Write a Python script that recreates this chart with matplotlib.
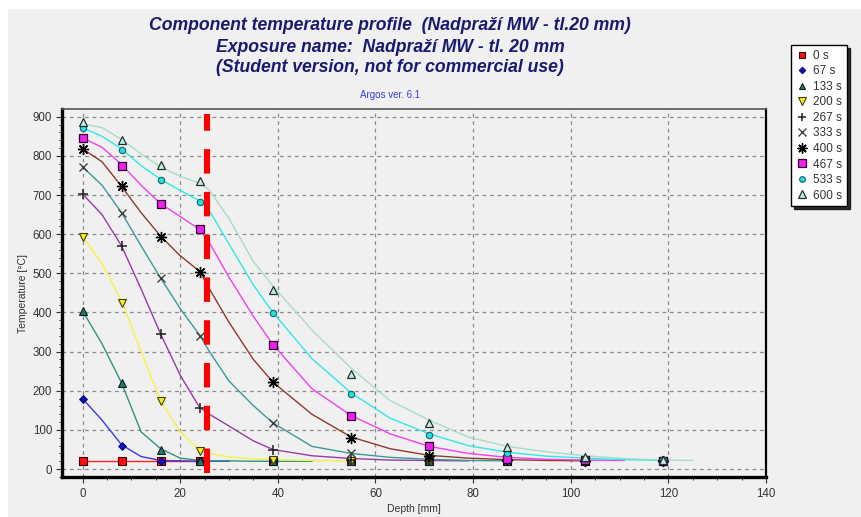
import numpy as np
import matplotlib
matplotlib.use("Agg")
import matplotlib.pyplot as plt
from matplotlib.lines import Line2D
from matplotlib.patches import Rectangle
from matplotlib.ticker import MultipleLocator

nan = np.nan

# ---------------- data ----------------
series_labels = ["0 s", "67 s", "133 s", "200 s", "267 s", "333 s", "400 s", "467 s", "533 s", "600 s"]

# measured points (markers)
marker_depth = [0, 8, 16, 24, 39, 55, 71, 87, 103, 119]
t_0 = [20, 20, 20, 20, 20, 20, 20, 20, 20, 20]
t_67 = [179, 60, 21, 20, 20, 20, 20, 20, 20, 20]
t_133 = [404, 220, 50, 21, 20, 20, 20, 20, 20, 20]
t_200 = [594, 425, 174, 47, 23, 21, 20, 20, 20, 20]
t_267 = [703, 570, 345, 155, 49, 24, 21, 20, 20, 20]
t_333 = [772, 655, 487, 341, 118, 42, 28, 22, 21, 20]
t_400 = [818, 722, 594, 504, 222, 80, 34, 24, 21, 20]
t_467 = [846, 774, 676, 612, 317, 136, 58, 27, 22, 21]
t_533 = [872, 815, 738, 683, 398, 192, 88, 42, 26, 22]
t_600 = [886, 840, 777, 735, 458, 242, 117, 57, 31, 22]

# simulated profiles (lines)
line_depth = [0, 4, 8, 12, 16, 20, 24, 26, 30, 35, 39, 47, 55, 63, 71, 79, 87, 95, 103, 111, 119, 125]
l_0 = [20, 20, 20, 20, 20, 20, 20, nan, nan, nan, nan, nan, nan, nan, nan, nan, nan, nan, nan, nan, nan, nan]
l_67 = [180, 125, 62, 32, 22, 21, 20, 20, 20, nan, nan, nan, nan, nan, nan, nan, nan, nan, nan, nan, nan, nan]
l_133 = [404, 320, 220, 95, 52, 28, 22, 21, 21, 20, 20, 20, nan, nan, nan, nan, nan, nan, nan, nan, nan, nan]
l_200 = [594, 525, 430, 300, 175, 95, 48, 40, 31, 26, 24, 22, 21, nan, nan, nan, nan, nan, nan, nan, nan, nan]
l_267 = [703, 650, 570, 460, 345, 240, 157, 140, 110, 72, 50, 34, 27, 23, 22, 21, nan, nan, nan, nan, nan, nan]
l_333 = [772, 725, 655, 570, 488, 410, 342, 300, 225, 162, 118, 58, 40, 30, 25, 22, 21, nan, nan, nan, nan, nan]
l_400 = [818, 785, 722, 655, 595, 545, 505, 460, 375, 280, 222, 140, 82, 52, 35, 28, 24, 22, 21, nan, nan, nan]
l_467 = [846, 822, 778, 725, 678, 645, 612, 578, 490, 390, 318, 205, 137, 90, 58, 40, 30, 25, 23, 22, nan, nan]
l_533 = [872, 850, 818, 775, 740, 712, 685, 660, 575, 470, 400, 282, 195, 130, 90, 60, 43, 33, 28, 24, 22, nan]
l_600 = [882, 872, 842, 805, 772, 748, 730, 712, 640, 530, 468, 355, 258, 175, 125, 82, 58, 44, 34, 27, 23, 22]

boundary_depth = 25.5
x_ticks = [0, 20, 40, 60, 80, 100, 120, 140]
y_ticks = [0, 100, 200, 300, 400, 500, 600, 700, 800, 900]

marker_sets = [t_0, t_67, t_133, t_200, t_267, t_333, t_400, t_467, t_533, t_600]
line_sets = [l_0, l_67, l_133, l_200, l_267, l_333, l_400, l_467, l_533, l_600]

# ---------------- styles ----------------
line_colors = ["#ff2020", "#3a3ae0", "#2e9482", "#f4f440", "#9a3aa8", "#3a9a98",
               "#8e3a2e", "#f040f0", "#30e8e8", "#a8dcc6"]
m_styles = [
    dict(marker="s", ms=5.5, mfc="#ff1010", mec="#400000", mew=0.8),
    dict(marker="D", ms=3.8, mfc="#1010c0", mec="#000060", mew=0.6),
    dict(marker="^", ms=5.5, mfc="#1f7a6a", mec="#102020", mew=0.8),
    dict(marker="v", ms=6, mfc="#f0f020", mec="#404000", mew=0.8),
    dict(marker="+", ms=7, mfc="none", mec="#202020", mew=1.1),
    dict(marker="x", ms=6, mfc="none", mec="#404040", mew=1.0),
    dict(marker=(8, 2, 0), ms=8, mfc="#000000", mec="#000000", mew=1.0),
    dict(marker="s", ms=6.2, mfc="#f020f0", mec="#300030", mew=0.9),
    dict(marker="o", ms=4.6, mfc="#20e0e0", mec="#206060", mew=0.8),
    dict(marker="^", ms=6, mfc="#c8ece0", mec="#203030", mew=0.9),
]

W, H = 862, 517
fig = plt.figure(figsize=(W / 100, H / 100), dpi=100)
fig.patch.set_facecolor("white")
fig.patches.append(Rectangle((8 / W, 0), 1 - 8 / W, 1 - 9 / H, transform=fig.transFigure,
                             facecolor="#f0f0f0", edgecolor="none", zorder=-10))

ax = fig.add_axes([62.5 / W, 1 - 477.3 / H, (766 - 62.5) / W, (477.3 - 109.3) / H])
ax.set_facecolor("#f0f0f0")

for xs_line, col in zip(line_sets, line_colors):
    ax.plot(line_depth, xs_line, color=col, lw=1.0, zorder=3)

for ys, st in zip(marker_sets, m_styles):
    ax.plot(marker_depth, ys, linestyle="none", zorder=4, **st)

ax.axvline(boundary_depth, ymin=0.012, ymax=0.987, color="#ff0000", lw=4.4,
           dashes=(4, 3), zorder=5, solid_capstyle="butt", dash_capstyle="butt")

ax.set_xlim(-4.1, 140)
ax.set_ylim(-21, 919)
ax.set_xticks(x_ticks)
ax.set_yticks(y_ticks)
ax.xaxis.set_minor_locator(MultipleLocator(5))
ax.yaxis.set_minor_locator(MultipleLocator(20))
ax.grid(True, which="major", color="#8a8a8a", linestyle=(0, (3, 3)), lw=0.9)
ax.tick_params(which="major", length=4, width=0.8, colors="#333333", labelsize=8.3)
ax.tick_params(which="minor", length=2.5, width=0.7, colors="#333333")
for lab in ax.get_xticklabels() + ax.get_yticklabels():
    lab.set_fontfamily("Liberation Sans")
    lab.set_color("#333333")

for side in ["left", "bottom"]:
    ax.spines[side].set_linewidth(2.4)
    ax.spines[side].set_color("black")
ax.spines["top"].set_linewidth(1.2)
ax.spines["top"].set_color("#555555")
ax.spines["right"].set_linewidth(1.6)
ax.spines["right"].set_color("black")

ax.set_xlabel("Depth [mm]", fontsize=7.5, family="Liberation Sans", color="#333333", labelpad=3)
ax.set_ylabel("Temperature [°C]", fontsize=7.5, family="Liberation Sans", color="#333333", labelpad=3)

title_kw = dict(ha="center", va="center", fontsize=12.7, fontweight="bold", fontstyle="italic",
                family="Liberation Sans", color="#1a1a70")
fig.text(390 / W, 1 - 25 / H, "Component temperature profile  (Nadpraží MW - tl.20 mm)", **title_kw)
fig.text(390 / W, 1 - 47 / H, "Exposure name:  Nadpraží MW - tl. 20 mm", **title_kw)
fig.text(390 / W, 1 - 68 / H, "(Student version, not for commercial use)", **title_kw)
fig.text(390 / W, 1 - 95 / H, "Argos ver. 6.1", ha="center", va="center", fontsize=7,
         family="Liberation Sans", color="#3a3ae0")

handles = [Line2D([], [], linestyle="none", **st) for st in m_styles]
leg = fig.legend(handles, series_labels, loc="upper left", bbox_to_anchor=(791 / W, 1 - 45 / H),
                 frameon=True, fancybox=False, shadow={"color": "black", "alpha": 0.8},
                 prop={"family": "Liberation Sans", "size": 8.5},
                 handlelength=1.0, handletextpad=0.5, labelspacing=0.3,
                 borderpad=0.4, borderaxespad=0, markerscale=0.9)
leg.get_frame().set_edgecolor("black")
leg.get_frame().set_linewidth(1.0)
leg.get_frame().set_facecolor("white")
for t in leg.get_texts():
    t.set_color("#333333")

fig.savefig("out.png", dpi=100, facecolor=fig.get_facecolor())
